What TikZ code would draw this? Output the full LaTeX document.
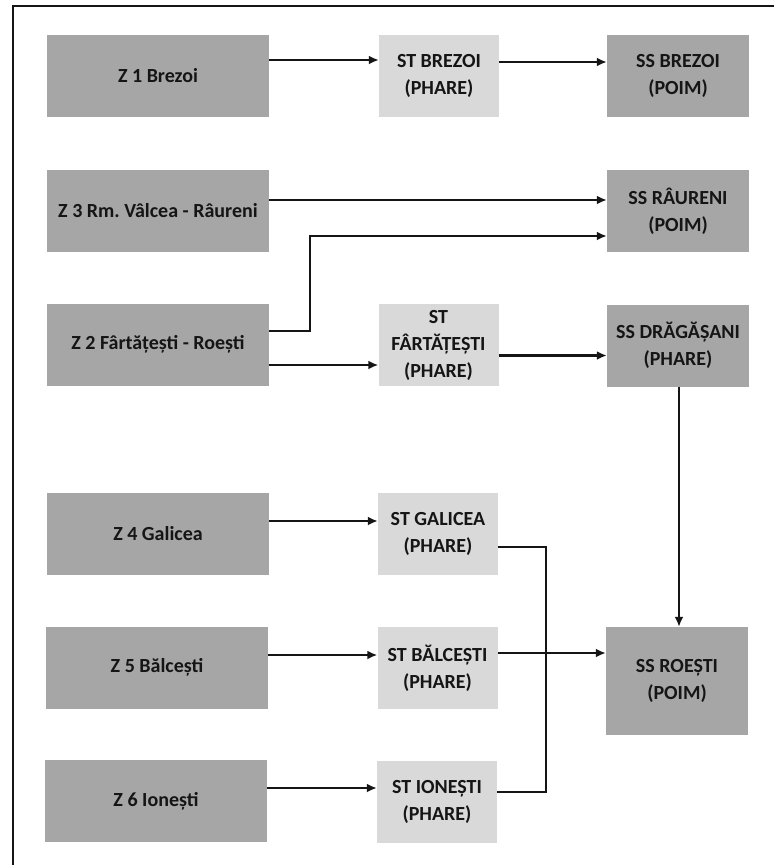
\documentclass[tikz,border=0pt]{standalone}
\usepackage{fontspec}
\setmainfont{Carlito}
\usetikzlibrary{arrows.meta}
\definecolor{darkbox}{HTML}{A6A6A6}
\definecolor{lightbox}{HTML}{D9D9D9}
\definecolor{ink}{HTML}{151515}
\frenchspacing
\begin{document}
\begin{tikzpicture}[x=1pt,y=-1pt,
  box/.style={draw=none, inner sep=0pt, align=center, text=ink,
    font=\fontsize{20}{27}\selectfont\bfseries},
  zone/.style={box, fill=darkbox, minimum width=222pt, minimum height=82pt},
  stat/.style={box, fill=lightbox, minimum width=120pt, minimum height=82pt},
  sstat/.style={box, fill=darkbox, minimum width=142pt, minimum height=82pt},
  conn/.style={line width=2.5pt, draw=ink},
  arr/.style={conn, -{Latex[length=10pt,width=9pt]}},
  frame/.style={line width=2pt, draw=ink}]
\useasboundingbox (0,0) rectangle (774,865);
\fill[white] (0,0) rectangle (774,865);
\draw[frame] (774,6) -- (13,6) -- (13,865);

% left column
\node[zone] (z1) at (158,76) {Z 1 Brezoi};
\node[zone] (z3) at (158,211) {Z 3 Rm. Vâlcea - Râureni};
\node[zone] (z2) at (158,344.5) {Z 2 Fârtățești - Roești};
\node[zone] (z4) at (158,534) {Z 4 Galicea};
\node[zone] (z5) at (157,667.5) {Z 5 Bălcești};
\node[zone] (z6) at (156,801) {Z 6 Ionești};

% middle column
\node[stat] (stb) at (439,76) {ST BREZOI\\(PHARE)};
\node[stat] (stf) at (438.5,345) {ST\\FÂRTĂȚEȘTI\\(PHARE)};
\node[stat] (stg) at (438,534) {ST GALICEA\\(PHARE)};
\node[stat] (stba) at (437.5,668) {ST BĂLCEȘTI\\(PHARE)};
\node[stat] (sti) at (437,802) {ST IONEȘTI\\(PHARE)};

% right column
\node[sstat] (ssb) at (678,76) {SS BREZOI\\(POIM)};
\node[sstat] (ssr) at (678,211) {SS RÂURENI\\(POIM)};
\node[sstat] (ssd) at (678,345.5) {SS DRĂGĂȘANI\\(PHARE)};
\node[sstat, minimum height=108pt] (ssro) at (677,681) {SS ROEȘTI\\(POIM)};

% connectors
\draw[arr] ([yshift=16pt]z1.east) -- ([yshift=16pt]z1.east -| stb.west);
\draw[arr] ([yshift=14pt]stb.east) -- ([yshift=14pt]stb.east -| ssb.west);
\draw[arr] ([yshift=11pt]z3.east) -- ([yshift=11pt]z3.east -| ssr.west);
\draw[arr] ([yshift=13.5pt]z2.east) -- ++(41pt,0) |- ([yshift=-25pt]ssr.west);
\draw[arr] ([yshift=-20.5pt]z2.east) -- ([yshift=-20.5pt]z2.east -| stf.west);
\draw[arr] ([yshift=-10.5pt]stf.east) -- ([yshift=-10.5pt]stf.east -| ssd.west);
\draw[arr] ([xshift=1pt]ssd.south) -- ([xshift=1pt]ssd.south |- ssro.north);
\draw[arr] ([yshift=13pt]z4.east) -- ([yshift=13pt]z4.east -| stg.west);
\draw[conn] ([yshift=-13pt]stg.east) -- ++(48pt,0) |- ([yshift=10pt]sti.east);
\draw[arr] ([yshift=12.5pt]z5.east) -- ([yshift=12.5pt]z5.east -| stba.west);
\draw[arr] ([yshift=15pt]stba.east) -- ([yshift=15pt]stba.east -| ssro.west);
\draw[arr] ([yshift=13pt]z6.east) -- ([yshift=13pt]z6.east -| sti.west);
\end{tikzpicture}
\end{document}
